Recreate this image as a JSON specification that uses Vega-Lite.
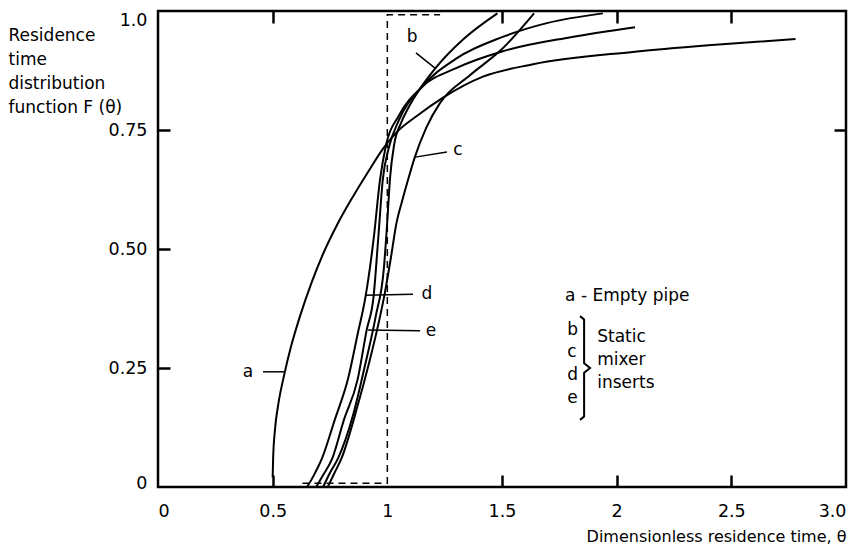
{
  "$schema": "https://vega.github.io/schema/vega-lite/v6.json",
  "autosize": "none",
  "padding": {"left": 158, "top": 11, "right": 3, "bottom": 61},
  "width": 688,
  "height": 476,
  "background": "white",
  "config": {
    "view": {"stroke": "black", "strokeWidth": 2.5},
    "font": "DejaVu Sans",
    "axis": {"grid": false, "domain": false, "tickColor": "black", "tickWidth": 2.5, "labelColor": "black", "titleColor": "black", "labelFont": "DejaVu Sans", "titleFont": "DejaVu Sans"}
  },
  "datasets": {
    "curves": [
      {"curve": "a", "theta": 0.50, "F": 0.02},
      {"curve": "a", "theta": 0.502, "F": 0.06},
      {"curve": "a", "theta": 0.51, "F": 0.12},
      {"curve": "a", "theta": 0.525, "F": 0.175},
      {"curve": "a", "theta": 0.55, "F": 0.235},
      {"curve": "a", "theta": 0.58, "F": 0.295},
      {"curve": "a", "theta": 0.62, "F": 0.36},
      {"curve": "a", "theta": 0.67, "F": 0.43},
      {"curve": "a", "theta": 0.72, "F": 0.49},
      {"curve": "a", "theta": 0.78, "F": 0.55},
      {"curve": "a", "theta": 0.85, "F": 0.61},
      {"curve": "a", "theta": 0.92, "F": 0.665},
      {"curve": "a", "theta": 0.98, "F": 0.71},
      {"curve": "a", "theta": 1.04, "F": 0.745},
      {"curve": "a", "theta": 1.13, "F": 0.78},
      {"curve": "a", "theta": 1.243, "F": 0.818},
      {"curve": "a", "theta": 1.417, "F": 0.862},
      {"curve": "a", "theta": 1.635, "F": 0.888},
      {"curve": "a", "theta": 2.07, "F": 0.914},
      {"curve": "a", "theta": 2.4, "F": 0.928},
      {"curve": "a", "theta": 2.78, "F": 0.941},

      {"curve": "b", "theta": 0.72, "F": 0.0},
      {"curve": "b", "theta": 0.75, "F": 0.03},
      {"curve": "b", "theta": 0.785, "F": 0.06},
      {"curve": "b", "theta": 0.85, "F": 0.15},
      {"curve": "b", "theta": 0.90, "F": 0.25},
      {"curve": "b", "theta": 0.95, "F": 0.36},
      {"curve": "b", "theta": 0.985, "F": 0.46},
      {"curve": "b", "theta": 1.0, "F": 0.56},
      {"curve": "b", "theta": 1.012, "F": 0.65},
      {"curve": "b", "theta": 1.03, "F": 0.72},
      {"curve": "b", "theta": 1.06, "F": 0.765},
      {"curve": "b", "theta": 1.09, "F": 0.795},
      {"curve": "b", "theta": 1.14, "F": 0.835},
      {"curve": "b", "theta": 1.21, "F": 0.88},
      {"curve": "b", "theta": 1.33, "F": 0.94},
      {"curve": "b", "theta": 1.48, "F": 0.995},

      {"curve": "c", "theta": 0.74, "F": 0.0},
      {"curve": "c", "theta": 0.77, "F": 0.03},
      {"curve": "c", "theta": 0.80, "F": 0.06},
      {"curve": "c", "theta": 0.87, "F": 0.17},
      {"curve": "c", "theta": 0.92, "F": 0.26},
      {"curve": "c", "theta": 0.96, "F": 0.34},
      {"curve": "c", "theta": 0.99, "F": 0.41},
      {"curve": "c", "theta": 1.015, "F": 0.48},
      {"curve": "c", "theta": 1.04, "F": 0.555},
      {"curve": "c", "theta": 1.064, "F": 0.60},
      {"curve": "c", "theta": 1.09, "F": 0.645},
      {"curve": "c", "theta": 1.12, "F": 0.693},
      {"curve": "c", "theta": 1.17, "F": 0.755},
      {"curve": "c", "theta": 1.23, "F": 0.807},
      {"curve": "c", "theta": 1.36, "F": 0.865},
      {"curve": "c", "theta": 1.5, "F": 0.92},
      {"curve": "c", "theta": 1.64, "F": 0.995},

      {"curve": "d", "theta": 0.65, "F": 0.0},
      {"curve": "d", "theta": 0.68, "F": 0.025},
      {"curve": "d", "theta": 0.715, "F": 0.06},
      {"curve": "d", "theta": 0.77, "F": 0.14},
      {"curve": "d", "theta": 0.83, "F": 0.23},
      {"curve": "d", "theta": 0.87, "F": 0.32},
      {"curve": "d", "theta": 0.905, "F": 0.40},
      {"curve": "d", "theta": 0.94, "F": 0.52},
      {"curve": "d", "theta": 0.968, "F": 0.645},
      {"curve": "d", "theta": 0.995, "F": 0.72},
      {"curve": "d", "theta": 1.05, "F": 0.78},
      {"curve": "d", "theta": 1.15, "F": 0.84},
      {"curve": "d", "theta": 1.3, "F": 0.88},
      {"curve": "d", "theta": 1.5, "F": 0.915},
      {"curve": "d", "theta": 1.8, "F": 0.945},
      {"curve": "d", "theta": 2.08, "F": 0.966},

      {"curve": "e", "theta": 0.69, "F": 0.0},
      {"curve": "e", "theta": 0.72, "F": 0.025},
      {"curve": "e", "theta": 0.76, "F": 0.06},
      {"curve": "e", "theta": 0.81, "F": 0.14},
      {"curve": "e", "theta": 0.87, "F": 0.225},
      {"curve": "e", "theta": 0.91, "F": 0.33},
      {"curve": "e", "theta": 0.94, "F": 0.40},
      {"curve": "e", "theta": 0.96, "F": 0.52},
      {"curve": "e", "theta": 0.98, "F": 0.645},
      {"curve": "e", "theta": 1.005, "F": 0.71},
      {"curve": "e", "theta": 1.05, "F": 0.77},
      {"curve": "e", "theta": 1.15, "F": 0.84},
      {"curve": "e", "theta": 1.3, "F": 0.9},
      {"curve": "e", "theta": 1.5, "F": 0.945},
      {"curve": "e", "theta": 1.7, "F": 0.975},
      {"curve": "e", "theta": 1.94, "F": 0.995}
    ],
    "step": [
      {"order": 1, "theta": 0.63, "F": 0.008},
      {"order": 2, "theta": 1.0, "F": 0.008},
      {"order": 3, "theta": 1.0, "F": 0.992},
      {"order": 4, "theta": 1.23, "F": 0.992}
    ],
    "leaders": [
      {"curve": "a", "theta": 0.458, "F": 0.242, "theta2": 0.554, "F2": 0.242},
      {"curve": "b", "theta": 1.125, "F": 0.912, "theta2": 1.208, "F2": 0.880},
      {"curve": "c", "theta": 1.26, "F": 0.704, "theta2": 1.121, "F2": 0.693},
      {"curve": "d", "theta": 0.903, "F": 0.403, "theta2": 1.112, "F2": 0.405},
      {"curve": "e", "theta": 0.916, "F": 0.33, "theta2": 1.143, "F2": 0.328}
    ],
    "brace": [
      {"order": 1, "theta": 1.84, "F": 0.359},
      {"order": 2, "theta": 1.858, "F": 0.352},
      {"order": 3, "theta": 1.858, "F": 0.26},
      {"order": 4, "theta": 1.884, "F": 0.25},
      {"order": 5, "theta": 1.858, "F": 0.24},
      {"order": 6, "theta": 1.858, "F": 0.148},
      {"order": 7, "theta": 1.84, "F": 0.141}
    ],
    "curveLabels": [
      {"text": "a", "theta": 0.392, "F": 0.242},
      {"text": "b", "theta": 1.108, "F": 0.945},
      {"text": "c", "theta": 1.308, "F": 0.708},
      {"text": "d", "theta": 1.173, "F": 0.405},
      {"text": "e", "theta": 1.19, "F": 0.328}
    ],
    "legend": [
      {"text": "a - Empty pipe", "theta": 1.775, "F": 0.401},
      {"text": "b", "theta": 1.784, "F": 0.330},
      {"text": "c", "theta": 1.784, "F": 0.284},
      {"text": "d", "theta": 1.784, "F": 0.235},
      {"text": "e", "theta": 1.784, "F": 0.187},
      {"text": "Static", "theta": 1.915, "F": 0.315},
      {"text": "mixer", "theta": 1.915, "F": 0.267},
      {"text": "inserts", "theta": 1.915, "F": 0.218}
    ]
  },
  "resolve": {"axis": {"x": "independent", "y": "independent"}},
  "layer": [
    {
      "data": {"name": "curves"},
      "mark": {"type": "line", "interpolate": "monotone", "stroke": "black", "strokeWidth": 2},
      "encoding": {
        "x": {"field": "theta", "type": "quantitative", "scale": {"domain": [0, 3], "nice": false, "zero": false},
          "axis": {"orient": "bottom", "offset": -12, "values": [0, 0.5, 1, 1.5, 2, 2.5, 3], "tickSize": 12, "labelPadding": 15, "labelFontSize": 17.5, "labelFlush": true,
            "labelExpr": "datum.value == 3 ? '3.0' : format(datum.value, '')",
            "tickColor": {"condition": {"test": "datum.value == 0 || datum.value == 1 || datum.value == 3", "value": "transparent"}, "value": "black"},
            "title": "Dimensionless residence time, θ", "titleFontSize": 16, "titleFontWeight": "normal", "titleAnchor": "end", "titleAlign": "right", "titleBaseline": "alphabetic", "titleX": 688, "titleY": 66}},
        "y": {"field": "F", "type": "quantitative", "scale": {"domain": [0, 1], "nice": false, "zero": false},
          "axis": {"orient": "left", "offset": -12, "values": [0, 0.25, 0.5, 0.75, 1], "tickSize": 12, "labelPadding": 11, "labelFontSize": 17.5,
            "labelExpr": "datum.value == 1 ? '1.0' : datum.value == 0 ? '0' : format(datum.value, '.2f')",
            "labelOffset": {"condition": [{"test": "datum.value == 1", "value": 9}, {"test": "datum.value == 0", "value": -4}], "value": 0},
            "tickColor": {"condition": {"test": "datum.value == 0 || datum.value == 1", "value": "transparent"}, "value": "black"},
            "title": ["Residence", "time", "distribution", "function F (θ)"], "titleAngle": 0, "titleAlign": "left", "titleBaseline": "alphabetic", "titleX": -162, "titleY": 29, "titleLineHeight": 24, "titleFontSize": 17, "titleFontWeight": "normal"}},
        "detail": {"field": "curve"}
      }
    },
    {
      "data": {"name": "step"},
      "mark": {"type": "line", "stroke": "black", "strokeWidth": 1.5, "strokeDash": [7, 5]},
      "encoding": {
        "x": {"field": "theta", "type": "quantitative", "axis": {"orient": "top", "offset": -12, "values": [0.5, 1.5, 2, 2.5], "tickSize": 12, "labels": false, "title": null}},
        "y": {"field": "F", "type": "quantitative", "axis": {"orient": "right", "offset": -12, "values": [0.75], "tickSize": 12, "labels": false, "title": null}},
        "order": {"field": "order"}
      }
    },
    {
      "data": {"name": "leaders"},
      "mark": {"type": "rule", "stroke": "black", "strokeWidth": 1.5},
      "encoding": {
        "x": {"field": "theta", "type": "quantitative", "axis": null},
        "y": {"field": "F", "type": "quantitative", "axis": null},
        "x2": {"field": "theta2"},
        "y2": {"field": "F2"}
      }
    },
    {
      "data": {"name": "brace"},
      "mark": {"type": "line", "stroke": "black", "strokeWidth": 2, "interpolate": "linear"},
      "encoding": {
        "x": {"field": "theta", "type": "quantitative", "axis": null},
        "y": {"field": "F", "type": "quantitative", "axis": null},
        "order": {"field": "order"}
      }
    },
    {
      "data": {"name": "curveLabels"},
      "mark": {"type": "text", "align": "center", "baseline": "middle", "fontSize": 17, "font": "DejaVu Sans", "color": "black"},
      "encoding": {
        "x": {"field": "theta", "type": "quantitative", "axis": null},
        "y": {"field": "F", "type": "quantitative", "axis": null},
        "text": {"field": "text"}
      }
    },
    {
      "data": {"name": "legend"},
      "mark": {"type": "text", "align": "left", "baseline": "middle", "fontSize": 17, "font": "DejaVu Sans", "color": "black"},
      "encoding": {
        "x": {"field": "theta", "type": "quantitative", "axis": null},
        "y": {"field": "F", "type": "quantitative", "axis": null},
        "text": {"field": "text"}
      }
    }
  ]
}
